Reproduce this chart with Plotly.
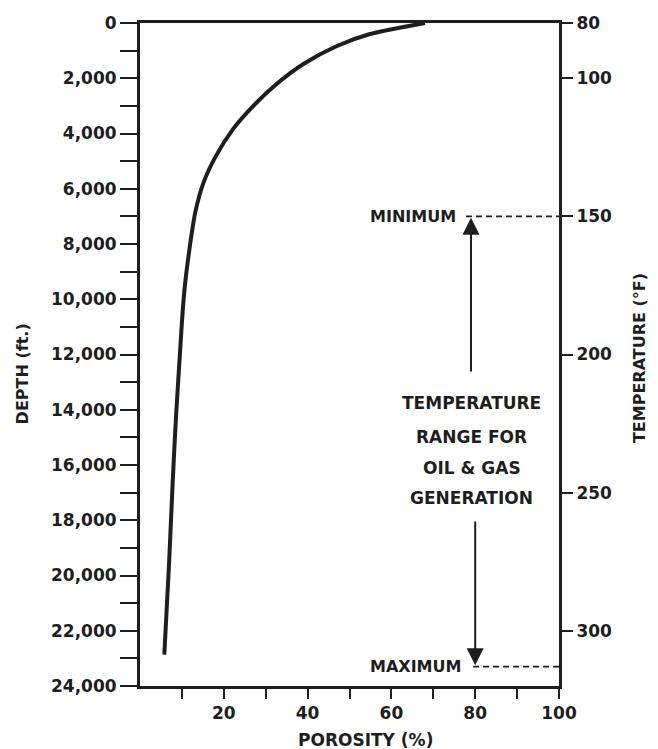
import plotly.graph_objects as go

# ---- data ----
depth_ft = [0, 400, 833, 1486, 2210, 3007, 3841, 4819, 5761, 6848, 8080, 9529, 10616, 11812, 14239, 16630, 19674, 22862]
porosity_pct = [68, 54.9, 47.0, 39.0, 32.6, 27.0, 22.2, 18.1, 15.2, 13.2, 11.9, 10.7, 10.1, 9.6, 8.6, 7.8, 6.9, 5.8]

depth_ticks = list(range(0, 24001, 1000))
depth_labels = [f"{d:,}" if d % 2000 == 0 else "" for d in depth_ticks]
por_ticks = [10, 20, 30, 40, 50, 60, 70, 80, 90, 100]
por_labels = ["" if p % 20 else str(p) for p in por_ticks]
temp_ticks = [80, 100, 150, 200, 250, 300]
temp_range = [320, 80]

temp_min = 150
temp_max = 313
text_lines = ["TEMPERATURE", "RANGE FOR", "OIL & GAS", "GENERATION"]
text_depths = [13755, 14985, 16110, 17195]

INK = "#1e1e1e"
FONT = "DejaVu Sans"

fig = go.Figure()
fig.add_trace(go.Scatter(
    x=porosity_pct, y=depth_ft, mode="lines",
    line=dict(color=INK, width=4, shape="spline", smoothing=0.7),
    hoverinfo="skip", showlegend=False))

# dashed temperature markers (on the temperature axis)
fig.add_trace(go.Scatter(x=[77.8, 100], y=[temp_min, temp_min], yaxis="y2", mode="lines",
                         line=dict(color=INK, width=1.6, dash="6px,4px"), showlegend=False,
                         hoverinfo="skip"))
fig.add_trace(go.Scatter(x=[79.5, 100], y=[temp_max, temp_max], yaxis="y2", mode="lines",
                         line=dict(color=INK, width=1.6, dash="6px,4px"), showlegend=False,
                         hoverinfo="skip"))

tickfont = dict(family=FONT, size=17, color=INK, weight="bold")

# the page body adds a small offset, so the figure is sized/placed to compensate
fig.update_layout(
    width=650, height=749,
    margin=dict(l=132, r=99, t=15, b=71),
    paper_bgcolor="white", plot_bgcolor="white",
    font=dict(family=FONT, color=INK, size=17),
    xaxis=dict(range=[0, 100], tickmode="array", tickvals=por_ticks, ticktext=por_labels,
               ticks="outside", ticklen=10, tickwidth=2, tickcolor=INK,
               showline=True, linewidth=3, linecolor=INK, mirror=True,
               showgrid=False, zeroline=False, automargin=False, tickfont=tickfont),
    yaxis=dict(range=[24000, 0], tickmode="array", tickvals=depth_ticks, ticktext=depth_labels,
               ticks="outside", ticklen=17, tickwidth=2, tickcolor=INK,
               showline=True, linewidth=3, linecolor=INK,
               showgrid=False, zeroline=False, automargin=False, tickfont=tickfont),
    yaxis2=dict(range=temp_range, overlaying="y", side="right", tickmode="array",
                tickvals=temp_ticks, ticks="outside", ticklen=11, tickwidth=2, tickcolor=INK,
                showline=True, linewidth=3, linecolor=INK,
                showgrid=False, zeroline=False, automargin=False, tickfont=tickfont),
)

bold = dict(family=FONT, color=INK, weight="bold")

# axis titles
fig.add_annotation(text="DEPTH (ft.)", xref="paper", yref="paper", x=-0.2816, y=0.47,
                   xanchor="center", yanchor="middle",
                   textangle=-90, showarrow=False, font=dict(size=16, **bold))
fig.add_annotation(text="TEMPERATURE (°F)", xref="paper", yref="paper", x=1.194, y=0.495,
                   xanchor="center", yanchor="middle",
                   textangle=-90, showarrow=False, font=dict(size=16, **bold))
fig.add_annotation(text="POROSITY (%)", xref="paper", yref="paper", x=0.539, y=-0.0814,
                   xanchor="center", yanchor="middle",
                   showarrow=False, font=dict(size=17, **bold))

# minimum / maximum labels
fig.add_annotation(text="MINIMUM", x=75.9, y=temp_min, yref="y2", xanchor="right",
                   showarrow=False, font=dict(size=16, **bold))
fig.add_annotation(text="MAXIMUM", x=77.1, y=temp_max, yref="y2", xanchor="right",
                   showarrow=False, font=dict(size=16, **bold))

# text block
for t, d in zip(text_lines, text_depths):
    fig.add_annotation(text=t, x=79.2, y=d, xanchor="center", showarrow=False,
                       font=dict(size=17, **bold))

# arrows
fig.add_annotation(text="", x=79.0, y=7050, ax=79.0, ay=12670, xref="x", yref="y",
                   axref="x", ayref="y", showarrow=True, arrowhead=2, arrowsize=1.7,
                   arrowwidth=2, arrowcolor=INK)
fig.add_annotation(text="", x=80.0, y=23250, ax=80.0, ay=17990, xref="x", yref="y",
                   axref="x", ayref="y", showarrow=True, arrowhead=2, arrowsize=1.7,
                   arrowwidth=2, arrowcolor=INK)

fig.write_html("out.html")
